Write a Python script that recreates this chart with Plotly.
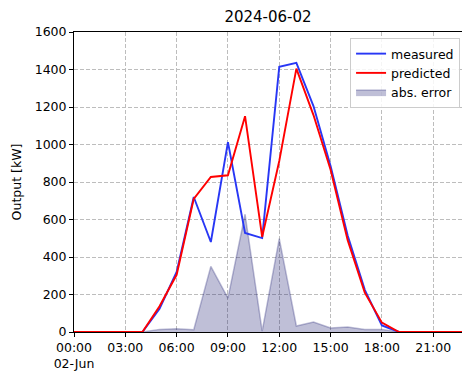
import plotly.graph_objects as go

times = [f"2024-06-02 {h:02d}:00" for h in range(24)]
measured = [0, 0, 0, 0, 0, 124, 320, 720, 480, 1013, 528, 501, 1414, 1435, 1205, 885, 515, 225, 35, 0, 0, 0, 0, 0]
predicted = [0, 0, 0, 0, 0, 137, 305, 710, 827, 836, 1151, 507, 912, 1405, 1157, 865, 490, 210, 50, 0, 0, 0, 0, 0]
abs_error = [0, 0, 0, 0, 0, 14, 18, 12, 350, 181, 628, 5, 498, 32, 53, 21, 27, 14, 14, 0, 0, 0, 0, 0]

tick_vals = ["2024-06-02 00:00", "2024-06-02 03:00", "2024-06-02 06:00", "2024-06-02 09:00",
             "2024-06-02 12:00", "2024-06-02 15:00", "2024-06-02 18:00", "2024-06-02 21:00"]
tick_text = ["00:00<br>02-Jun", "03:00", "06:00", "09:00", "12:00", "15:00", "18:00", "21:00"]
y_ticks = [0, 200, 400, 600, 800, 1000, 1200, 1400, 1600]

fig = go.Figure()
fig.add_trace(go.Scatter(
    x=times, y=abs_error, name="abs. error", mode="lines",
    fill="tozeroy", fillcolor="rgba(25,25,112,0.28)",
    line=dict(color="rgba(25,25,112,0.28)", width=1.5), legendrank=3))
fig.add_trace(go.Scatter(
    x=times, y=measured, name="measured", mode="lines",
    line=dict(color="rgb(40,55,245)", width=1.9), legendrank=1))
fig.add_trace(go.Scatter(
    x=times, y=predicted, name="predicted", mode="lines",
    line=dict(color="rgb(255,0,0)", width=1.9), legendrank=2))

font_family = "DejaVu Sans"
grid_dash = "4px,2px"
fig.update_layout(
    width=462, height=373,
    margin=dict(l=74, r=0, t=32, b=41, autoexpand=False),
    paper_bgcolor="white", plot_bgcolor="white",
    font=dict(family=font_family, size=12.5, color="black"),
    title=dict(text="2024-06-02", x=0.5, xref="paper", xanchor="center",
               y=1 - 17 / 373, yref="container", yanchor="middle",
               font=dict(size=15, color="black")),
    showlegend=True,
    legend=dict(x=0.995, y=0.98, xanchor="right", yanchor="top",
                bgcolor="rgba(255,255,255,0.85)", bordercolor="#cccccc", borderwidth=1,
                font=dict(size=12.5, color="black"), itemwidth=30,
                tracegroupgap=0),
    xaxis=dict(
        type="date",
        range=["2024-06-02 00:00", "2024-06-02 22:41"],
        tickvals=tick_vals, ticktext=tick_text,
        showgrid=True, gridcolor="#bdbdbd", griddash=grid_dash, gridwidth=1,
        showline=True, linecolor="black", linewidth=1, mirror=True,
        ticks="outside", ticklen=4, tickcolor="black",
        tickfont=dict(size=12.5), zeroline=False, automargin=False,
    ),
    yaxis=dict(
        range=[0, 1600], tickvals=y_ticks,
        showgrid=True, gridcolor="#bdbdbd", griddash=grid_dash, gridwidth=1,
        showline=True, linecolor="black", linewidth=1,
        ticks="outside", ticklen=4, tickcolor="black",
        tickfont=dict(size=12.5), zeroline=False, automargin=False,
        title=dict(text="Output [kW]", font=dict(size=12.5), standoff=10),
    ),
)

fig.write_html(
    "out.html",
    config={"displayModeBar": False},
    post_script="document.documentElement.style.margin='0';document.body.style.margin='0';"
                "document.documentElement.style.overflow='hidden';document.body.style.overflow='hidden';",
)
